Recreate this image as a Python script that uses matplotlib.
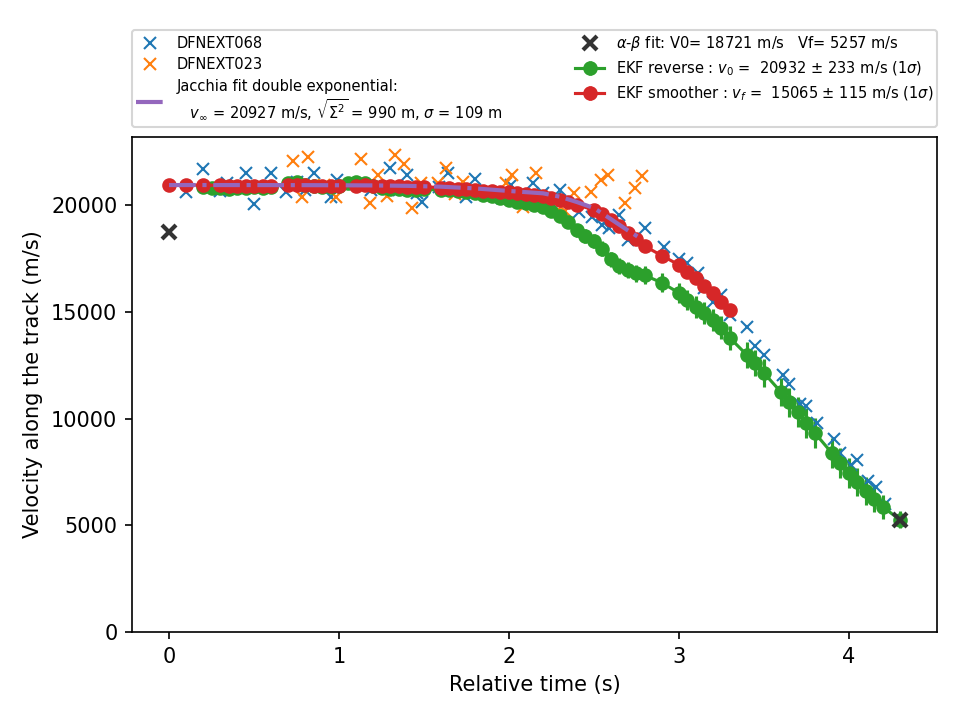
import numpy as np
import matplotlib.pyplot as plt

# DFNEXT068 observations
t_068 = [0.10, 0.20, 0.30, 0.34, 0.45, 0.50, 0.60, 0.69, 0.75, 0.80, 0.85, 0.95, 0.99,
         1.19, 1.30, 1.35, 1.40, 1.46, 1.49, 1.59, 1.64, 1.75, 1.80, 1.93, 1.96, 2.01,
         2.12, 2.14, 2.20, 2.27, 2.30, 2.41, 2.49, 2.55, 2.59, 2.65, 2.70, 2.80, 2.91,
         3.00, 3.05, 3.11, 3.15, 3.20, 3.25, 3.30, 3.40, 3.45, 3.50, 3.61, 3.65, 3.71,
         3.75, 3.81, 3.91, 3.95, 4.01, 4.05, 4.11, 4.16, 4.21]
v_068 = [20610, 21690, 20660, 21030, 21500, 20050, 21500, 20610, 21080, 20700, 21500, 20380, 21170,
         20700, 21730, 20700, 21410, 20560, 20140, 20840, 21500, 20380, 21220, 20470, 20330, 20940,
         20090, 21030, 20560, 20330, 20700, 19670, 19440, 19060, 18920, 19530, 18360, 18920, 18030,
         17450, 17280, 16820, 16110, 15460, 15790, 14850, 14290, 13400, 12970, 12030, 11620, 10680,
         10590, 9790, 9040, 8380, 7820, 8060, 7070, 6790, 6000]

# DFNEXT023 observations
t_023 = [0.73, 0.78, 0.82, 0.91, 0.98, 1.13, 1.18, 1.23, 1.28, 1.33, 1.38, 1.43, 1.48,
         1.58, 1.63, 1.68, 1.73, 1.88, 1.98, 2.02, 2.08, 2.12, 2.16, 2.23, 2.29, 2.33,
         2.38, 2.48, 2.54, 2.58, 2.68, 2.74, 2.78]
v_023 = [22060, 20380, 22250, 20940, 20380, 22150, 20090, 21410, 20420, 22340, 21920, 19860, 21030,
         21030, 21730, 20520, 21080, 20610, 21030, 21410, 19910, 20140, 21500, 20090, 19770, 19720,
         20560, 20610, 21170, 21410, 20090, 20800, 21360]

# Jacchia double exponential fit
t_jac = [0.0, 0.2, 0.4, 0.6, 0.8, 1.0, 1.2, 1.4, 1.6, 1.8, 2.0, 2.2, 2.3, 2.4, 2.5, 2.6, 2.7, 2.77]
v_jac = [20927, 20927, 20926, 20925, 20922, 20917, 20910, 20890, 20850, 20770, 20650, 20540,
         20380, 20130, 19850, 19330, 18800, 18450]

# alpha-beta fit
t_ab = [0.0, 4.3]
v_ab = [18721, 5257]

# EKF reverse
t_rev = [0.2, 0.25, 0.3, 0.35, 0.4, 0.45, 0.5, 0.55, 0.6, 0.7, 0.75, 0.8, 0.85, 0.9, 0.95,
         1.0, 1.05, 1.1, 1.15, 1.2, 1.25, 1.3, 1.35, 1.4, 1.45, 1.5, 1.6, 1.65, 1.7, 1.75,
         1.8, 1.85, 1.9, 1.95, 2.0, 2.05, 2.1, 2.15, 2.2, 2.25, 2.3, 2.35, 2.4, 2.45, 2.5,
         2.55, 2.6, 2.65, 2.7, 2.75, 2.8, 2.9, 3.0, 3.05, 3.1, 3.15, 3.2, 3.25, 3.3, 3.4,
         3.45, 3.5, 3.6, 3.65, 3.7, 3.75, 3.8, 3.9, 3.95, 4.0, 4.05, 4.1, 4.15, 4.2, 4.3]
v_rev = [20850, 20800, 20780, 20760, 20780, 20800, 20820, 20800, 20820, 21000, 21050, 20950,
         20880, 20850, 20850, 20900, 21000, 21050, 21000, 20900, 20800, 20750, 20720, 20700,
         20700, 20720, 20700, 20680, 20650, 20600, 20550, 20480, 20400, 20300, 20250, 20150,
         20100, 20000, 19900, 19700, 19500, 19200, 18800, 18550, 18300, 17950, 17450, 17150,
         16950, 16800, 16700, 16350, 15880, 15550, 15220, 14940, 14610, 14240, 13770, 12970,
         12600, 12130, 11240, 10770, 10300, 9790, 9320, 8380, 7920, 7450, 7030, 6600, 6230,
         5860, 5257]
e_rev = [150, 150, 150, 150, 150, 150, 160, 160, 160, 160, 160, 160, 170, 170, 170, 170, 170,
         170, 180, 180, 180, 180, 180, 190, 190, 190, 200, 200, 200, 210, 210, 220, 220, 230,
         230, 240, 250, 260, 270, 280, 290, 300, 320, 330, 340, 350, 360, 380, 390, 400, 420,
         440, 460, 480, 500, 500, 520, 540, 560, 600, 620, 640, 660, 680, 700, 700, 700, 700,
         700, 680, 660, 640, 600, 550, 400]

# EKF smoother
t_smo = [0.0, 0.1, 0.2, 0.3, 0.35, 0.4, 0.45, 0.5, 0.55, 0.6, 0.7, 0.75, 0.8, 0.85, 0.9, 0.95,
         1.0, 1.1, 1.15, 1.2, 1.25, 1.3, 1.35, 1.4, 1.45, 1.5, 1.6, 1.65, 1.7, 1.75, 1.8, 1.85,
         1.9, 1.95, 2.0, 2.05, 2.1, 2.15, 2.2, 2.25, 2.3, 2.35, 2.4, 2.5, 2.55, 2.6, 2.65, 2.7,
         2.75, 2.8, 2.9, 3.0, 3.05, 3.1, 3.15, 3.2, 3.25, 3.3]
v_smo = [20930, 20930, 20920, 20910, 20900, 20890, 20890, 20890, 20890, 20900, 20920, 20920,
         20910, 20900, 20890, 20880, 20880, 20900, 20910, 20890, 20880, 20870, 20860, 20850,
         20850, 20840, 20810, 20790, 20760, 20730, 20700, 20670, 20640, 20610, 20580, 20550,
         20510, 20460, 20400, 20320, 20230, 20130, 20010, 19750, 19550, 19300, 19020, 18700,
         18400, 18060, 17620, 17190, 16880, 16580, 16180, 15860, 15460, 15065]
e_smo = [110] * len(t_smo)

fig, ax = plt.subplots(figsize=(6.4, 4.8), dpi=150)
fig.subplots_adjust(left=0.1375, right=0.976, bottom=0.122, top=0.81)

ax.errorbar(t_rev, v_rev, yerr=e_rev, fmt='-o', color='tab:green',
            label=r'EKF reverse : $v_0$ =  20932 $\pm$ 233 m/s (1$\sigma$)')
ax.errorbar(t_smo, v_smo, yerr=e_smo, fmt='-o', color='tab:red',
            label=r'EKF smoother : $v_f$ =  15065 $\pm$ 115 m/s (1$\sigma$)')
ax.plot(t_068, v_068, 'x', color='tab:blue', label='DFNEXT068')
ax.plot(t_023, v_023, 'x', color='tab:orange', label='DFNEXT023')
ax.plot(t_jac, v_jac, '-.', color='tab:purple', lw=2, zorder=3,
        label='Jacchia fit double exponential:\n'
              r'   $v_\infty$ = 20927 m/s, $\sqrt{\Sigma^2}$ = 990 m, $\sigma$ = 109 m')
ax.plot(t_ab, v_ab, 'x', color='0.2', mew=2, ms=7, zorder=3,
        label=r'$\alpha$-$\beta$ fit: V0= 18721 m/s   Vf= 5257 m/s')

ax.set_xlim(-0.218, 4.518)
ax.set_ylim(0, 23185)
ax.set_xlabel('Relative time (s)')
ax.set_ylabel('Velocity along the track (m/s)')

ax.legend(bbox_to_anchor=(0, 1.02, 1, 0.2), loc='lower left', mode='expand',
          borderaxespad=0, ncol=2, fontsize=7, labelspacing=0.45, borderpad=0.25)

fig.savefig('out.png', dpi=150)
